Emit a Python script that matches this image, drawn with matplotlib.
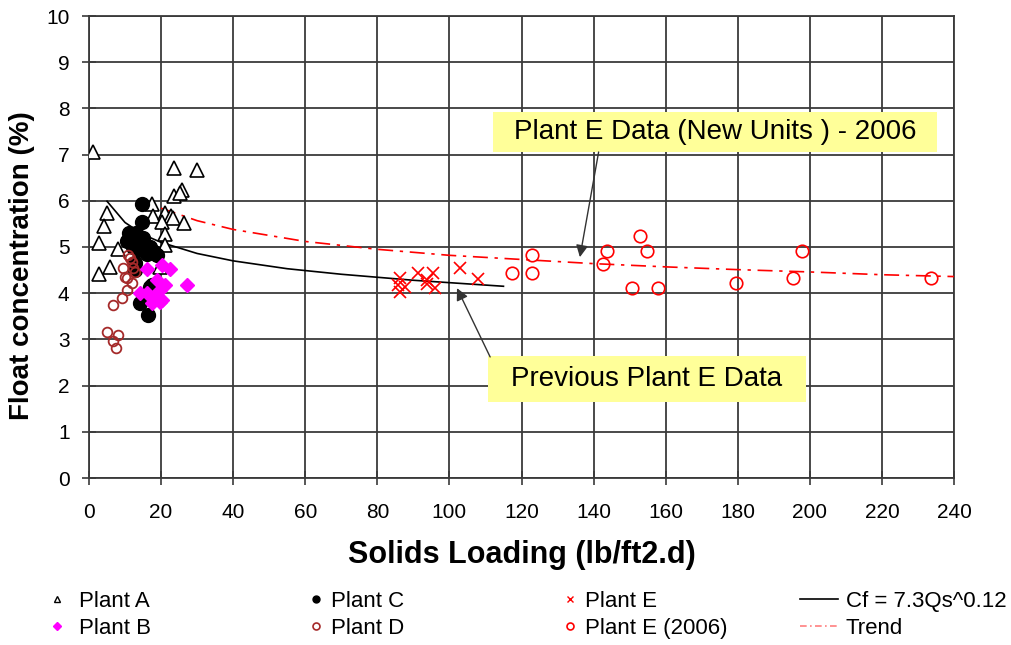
import matplotlib
matplotlib.use("Agg")
import matplotlib.pyplot as plt
from matplotlib.lines import Line2D
from matplotlib.patches import Rectangle

plt.rcParams['font.family'] = ['Liberation Sans', 'DejaVu Sans']

# ---- data ----
plant_a_x = [1, 23.5, 30, 25.7, 23.6, 17.4, 4.9, 4.2, 17.7, 21.1, 22.7, 23.4, 26.4, 20.2, 21.1, 2.9, 8.1, 21.1, 5.8, 2.9, 19.7, 25.2]
plant_a_y = [7.05, 6.72, 6.67, 6.23, 6.11, 5.93, 5.74, 5.45, 5.67, 5.73, 5.67, 5.62, 5.51, 5.55, 5.28, 5.09, 4.95, 5.04, 4.56, 4.42, 4.57, 6.17]

plant_b_x = [16.0, 20.2, 22.5, 18.8, 21.1, 27.1, 19.7, 14.2, 16.0, 17.8, 20.2, 17.4, 19.7]
plant_b_y = [4.52, 4.61, 4.52, 4.29, 4.18, 4.18, 4.07, 4.0, 4.0, 3.92, 3.85, 3.78, 3.82]

plant_c_x = [14.6, 14.6, 11.4, 12.8, 10.5, 14.6, 16.0, 13.7, 17.4, 18.8, 12.3, 12.8, 12.8, 17.4, 14.2, 16.5,
             11.0, 13.0, 15.0, 17.0, 18.0, 16.0, 13.5, 16.9]
plant_c_y = [5.92, 5.55, 5.22, 5.15, 5.12, 5.04, 4.97, 4.94, 4.90, 4.83, 5.0, 4.65, 4.5, 4.18, 3.78, 3.52,
             5.30, 5.30, 5.20, 5.00, 4.90, 4.85, 5.10, 4.13]

plant_d_x = [10.9, 11.4, 11.8, 9.5, 12.3, 10.5, 11.8, 10.5, 9.1, 6.7, 4.9, 8.1, 6.7, 7.5, 12.8, 10.0]
plant_d_y = [4.83, 4.76, 4.68, 4.54, 4.54, 4.32, 4.21, 4.07, 3.89, 3.74, 3.15, 3.10, 2.97, 2.81, 4.46, 4.35]

plant_e_x = [86.3, 85.8, 86.3, 87.7, 91.4, 95.5, 93.7, 96.0, 93.7, 102.9, 108.0]
plant_e_y = [4.32, 4.18, 4.03, 4.14, 4.43, 4.43, 4.29, 4.11, 4.2, 4.54, 4.30]

plant_e06_x = [117.3, 122.8, 122.8, 142.5, 143.8, 152.9, 154.7, 150.6, 158.0, 179.5, 195.4, 197.7, 233.6]
plant_e06_y = [4.44, 4.83, 4.44, 4.63, 4.92, 5.24, 4.92, 4.11, 4.11, 4.23, 4.32, 4.92, 4.32]

cf_x = [5, 10, 15, 20, 30, 40, 55, 70, 90, 115]
cf_y = [5.99, 5.53, 5.27, 5.10, 4.86, 4.70, 4.53, 4.41, 4.28, 4.15]

trend_x = [20, 30, 40, 60, 80, 100, 120, 140, 160, 180, 200, 220, 240]
trend_y = [5.84, 5.57, 5.38, 5.12, 4.95, 4.82, 4.73, 4.64, 4.57, 4.51, 4.46, 4.40, 4.36]

x_ticks = list(range(0, 241, 20))
y_ticks = list(range(0, 11))

# ---- figure ----
fig = plt.figure(figsize=(10.11, 6.45), dpi=100)
ax = fig.add_axes([89/1011, 1-478/645, (954-89)/1011, (478-16)/645])

ax.set_xlim(0, 240)
ax.set_ylim(0, 10)
ax.set_xticks(x_ticks)
ax.set_yticks(y_ticks)
ax.grid(True, color='#3a3a3a', linewidth=1.3)
ax.set_axisbelow(True)
for s in ax.spines.values():
    s.set_color('#3a3a3a')
    s.set_linewidth(1.3)
ax.tick_params(direction='inout', length=10, width=1.2, color='#3a3a3a', labelsize=15)
ax.tick_params(axis='x', pad=13)
ax.tick_params(axis='y', pad=9)

red = '#FF0000'
brown = '#A52A2A'

ax.plot(cf_x, cf_y, color='black', lw=1.2, label='Cf = 7.3Qs^0.12', zorder=3)
ax.plot(trend_x, trend_y, color=red, lw=1.2, dashes=[9, 4, 2, 4], label='Trend', zorder=3)

ax.plot(plant_a_x, plant_a_y, ls='none', marker='^', ms=10, mfc='white', mec='black', mew=1.2, label='Plant A', zorder=4)
ax.plot(plant_c_x, plant_c_y, ls='none', marker='o', ms=10, mfc='black', mec='black', label='Plant C', zorder=4)
ax.plot(plant_d_x, plant_d_y, ls='none', marker='o', ms=7, mfc='none', mec=brown, mew=1.3, label='Plant D', zorder=5)
ax.plot(plant_b_x, plant_b_y, ls='none', marker='D', ms=7.5, mfc='#FF00FF', mec='#FF00FF', label='Plant B', zorder=5)
ax.plot(plant_e_x, plant_e_y, ls='none', marker='x', ms=9, mec=red, mew=1.2, label='Plant E', zorder=4)
ax.plot(plant_e06_x, plant_e06_y, ls='none', marker='o', ms=9, mfc='none', mec=red, mew=1.2, label='Plant E (2006)', zorder=4)

ax.set_xlabel('Solids Loading (lb/ft2.d)', fontsize=22, fontweight='bold', labelpad=13)
ax.set_ylabel('Float concentration (%)', fontsize=20, fontweight='bold')
ax.yaxis.set_label_coords(-0.062, 0.459)

# annotations
ax.add_patch(Rectangle((112.1, 7.056), 123.2, 0.866, facecolor='#FFFF99', edgecolor='none', zorder=6))
ax.text(173.7, 7.49, 'Plant E Data (New Units ) - 2006', fontsize=20, ha='center', va='center', zorder=7)
ax.annotate('', xy=(136.2, 4.78), xytext=(141.4, 7.056),
            arrowprops=dict(arrowstyle='-|>', color='#333333', lw=1.0, mutation_scale=18,
                            shrinkA=0, shrinkB=0), zorder=6)
ax.add_patch(Rectangle((110.7, 1.645), 88.2, 0.996, facecolor='#FFFF99', edgecolor='none', zorder=6))
ax.text(154.8, 2.143, 'Previous Plant E Data', fontsize=20, ha='center', va='center', zorder=7)
ax.annotate('', xy=(102.1, 4.11), xytext=(111.3, 2.62),
            arrowprops=dict(arrowstyle='-|>', color='#333333', lw=1.0, mutation_scale=18,
                            shrinkA=0, shrinkB=0), zorder=6)

# legends (4 columns)
def mk(marker, ms, mfc, mec, mew=1.0):
    return Line2D([], [], ls='none', marker=marker, ms=ms, mfc=mfc, mec=mec, mew=mew)

groups = [
    ([mk('^', 5, 'white', 'black'), mk('D', 4.5, '#FF00FF', '#FF00FF')], ['Plant A', 'Plant B'], 46, 1.0, 0.5),
    ([mk('o', 5, 'black', 'black'), mk('o', 5, 'none', brown, 1.2)], ['Plant C', 'Plant D'], 307, 0.8, 0.3),
    ([mk('x', 5, 'none', red, 1.0), mk('o', 5, 'none', red, 1.2)], ['Plant E', 'Plant E (2006)'], 561, 0.8, 0.3),
    ([Line2D([], [], color='black', lw=1.2), Line2D([], [], color=red, lw=1.2, dashes=[4, 2, 1, 2], alpha=0.5)],
     ['Cf = 7.3Qs^0.12', 'Trend'], 800, 1.71, 0.36),
]
for h, l, x0, hl, tp in groups:
    fig.legend(h, l, loc='center left', bbox_to_anchor=(x0/1011, 1-615/645), frameon=False,
               fontsize=16, handlelength=hl, handletextpad=tp, labelspacing=0.26,
               borderaxespad=0, borderpad=0)

fig.savefig('out.png', dpi=100)
